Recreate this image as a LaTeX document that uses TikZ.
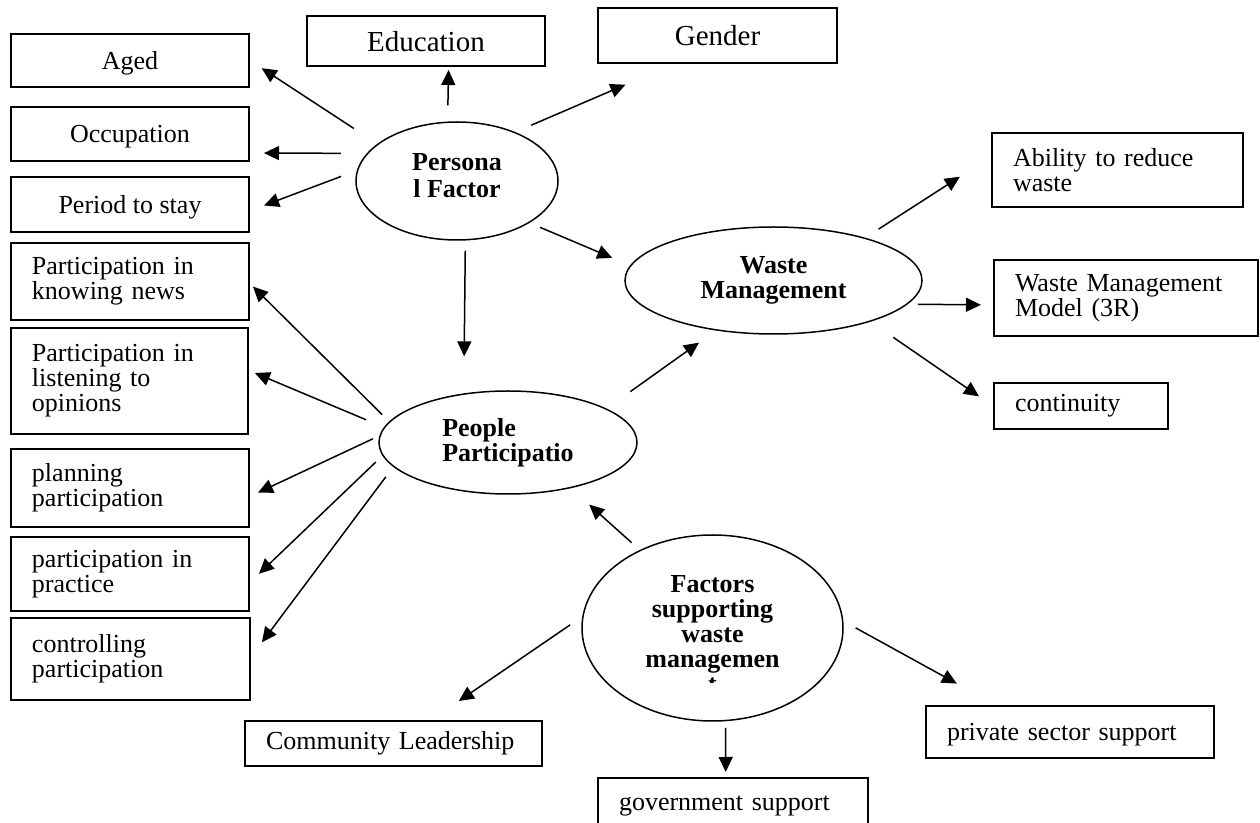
\documentclass[tikz,border=0pt]{standalone}
\usepackage{fontspec}
\setmainfont{Liberation Serif}
\usetikzlibrary{arrows.meta,shapes.geometric}

\tikzset{
	box/.style={draw,line width=1pt,inner xsep=10.5pt,inner ysep=0pt,font=\fontsize{13}{12.5}\selectfont},
	cbox/.style={box,align=center,text depth=0pt},
	lbox/.style={box,align=left},
	oval/.style={draw,ellipse,line width=0.75pt,inner sep=0pt,align=center,font=\fontsize{13}{12.5}\selectfont\bfseries},
	arr/.style={line width=0.75pt,-{Triangle[length=7.5pt,width=7pt]}}
}

\begin{document}
\begin{tikzpicture}[x=0.5pt,y=-0.5pt]
		\useasboundingbox (0,0) rectangle (1260,823);

		% the four ovals
		\node[oval,minimum width=101pt,minimum height=59pt,text depth=5.4pt,font=\fontsize{13}{13.5}\selectfont\bfseries] (pf) at (457,181) {Persona\\l Factor};
		\node[oval,minimum width=148.5pt,minimum height=53.5pt] (wm) at (773.5,280.5) {Waste\\Management};
		\node[oval,align=left,minimum width=129pt,minimum height=51.5pt] (pp) at (508,442.5) {People\\Participatio};
		\node[oval,minimum width=130.5pt,minimum height=93pt,text depth=6.7pt] (fs) at (712.5,628) {Factors\\supporting\\waste\\managemen};
		\begin{scope}
			\clip (640,600) rectangle (790,683);
			\node[inner sep=0pt,anchor=base,font=\fontsize{13}{12.5}\selectfont\bfseries] (fst) at (712.5,693) {t};
		\end{scope}

		% personal factor boxes
		\node[cbox,minimum width=119pt,minimum height=26.5pt] (aged) at (130,60.5) {Aged};
		\node[cbox,minimum width=119pt,minimum height=27pt] (occ) at (130,134) {Occupation};
		\node[cbox,minimum width=119pt,minimum height=27.5pt] (period) at (130,204.5) {Period to stay};
		\node[cbox,minimum width=119pt,minimum height=25pt,font=\fontsize{14.5}{14}\selectfont] (edu) at (426,41) {Education};
		\node[cbox,minimum width=119.5pt,minimum height=27.5pt,font=\fontsize{14.5}{14}\selectfont] (gender) at (717.5,35.5) {Gender};

		% participation boxes
		\node[lbox,minimum width=119pt,minimum height=38.5pt,text width=98pt] (news) at (130,281.5) {Participation in\\knowing news};
		\node[lbox,minimum width=118.5pt,minimum height=53pt,text width=97.5pt] (listen) at (129.5,381) {Participation in\\listening to\\opinions};
		\node[lbox,minimum width=119pt,minimum height=39pt,text width=98pt] (plan) at (130,488) {planning\\participation};
		\node[lbox,minimum width=119pt,minimum height=37pt,text width=98pt] (practice) at (130,574) {participation in\\practice};
		\node[lbox,minimum width=119.5pt,minimum height=41pt,text width=98.5pt] (ctrl) at (130.5,659) {controlling\\participation};

		% waste management boxes
		\node[lbox,minimum width=125.5pt,minimum height=37pt,text width=104.5pt] (ability) at (1117.5,170) {Ability to reduce\\waste};
		\node[lbox,minimum width=132pt,minimum height=38pt,text width=111pt] (wmm) at (1126,298) {Waste Management\\Model (3R)};
		\node[lbox,minimum width=87pt,minimum height=23pt,text width=66pt] (cont) at (1081,406) {continuity};

		% support boxes
		\node[lbox,minimum width=148.5pt,minimum height=22.5pt,text width=127.5pt] (comm) at (393.5,743.5) {Community Leadership};
		\node[lbox,minimum width=135pt,minimum height=28pt,text width=114pt] (gov) at (733,806) {government support};
		\node[lbox,minimum width=144pt,minimum height=26pt,text width=123pt,text depth=0pt] (priv) at (1070,732) {private sector support};

		% arrows
		\draw[arr,shorten <=14pt,shorten >=7pt] (pf.155) -- (aged.east);
		\draw[arr,shorten <=13pt,shorten >=7pt] (pf.163) -- (occ.351);
		\draw[arr,shorten <=8.4pt,shorten >=7.5pt] (pf.174) -- (period.357);
		\draw[arr,shorten <=8.1pt,shorten >=1.5pt] (pf.99) -- (edu.311);
		\draw[arr,shorten <=8.6pt,shorten >=26.2pt] (pf.40) -- (gender.213);
		\draw[arr,shorten <=5.7pt,shorten >=9.7pt] (pf.330) -- (wm.174);
		\draw[arr,shorten <=5.1pt,shorten >=18.5pt] (pf.278) -- (pp.132);

		\draw[arr,shorten <=7.9pt,shorten >=18.5pt] (wm.25) -- (ability.174);
		\draw[arr,shorten <=5pt,shorten >=6pt] (wm.350) -- (wmm.183);
		\draw[arr,shorten <=13.8pt,shorten >=8.5pt] (wm.337) -- (cont.west);

		\draw[arr,shorten <=4.9pt,shorten >=2.1pt] (pp.170) -- (news.359);
		\draw[arr,shorten <=9.6pt,shorten >=3.2pt] (pp.173) -- (listen.5);
		\draw[arr,shorten <=3.6pt,shorten >=4.4pt] (pp.177) -- (plan.356);
		\draw[arr,shorten <=4.6pt,shorten >=6.2pt] (pp.186) -- (practice.356);
		\draw[arr,shorten <=6.2pt,shorten >=9.1pt] (pp.192) -- (ctrl.1);
		\draw[arr,shorten <=14.5pt,shorten >=10.4pt] (pp.19) -- (wm.221);

		\draw[arr,shorten <=5.4pt,shorten >=12.3pt] (fs.133) -- (pp.324);
		\draw[arr,shorten <=7.3pt,shorten >=16.8pt] (fs.175) -- (comm.32);
		\draw[arr,shorten <=3.3pt,shorten >=2.5pt] (fs.278) -- (gov.104);
		\draw[arr,shorten <=7pt,shorten >=22.2pt] (fs.3) -- (priv.160);
	\end{tikzpicture}
\end{document}
